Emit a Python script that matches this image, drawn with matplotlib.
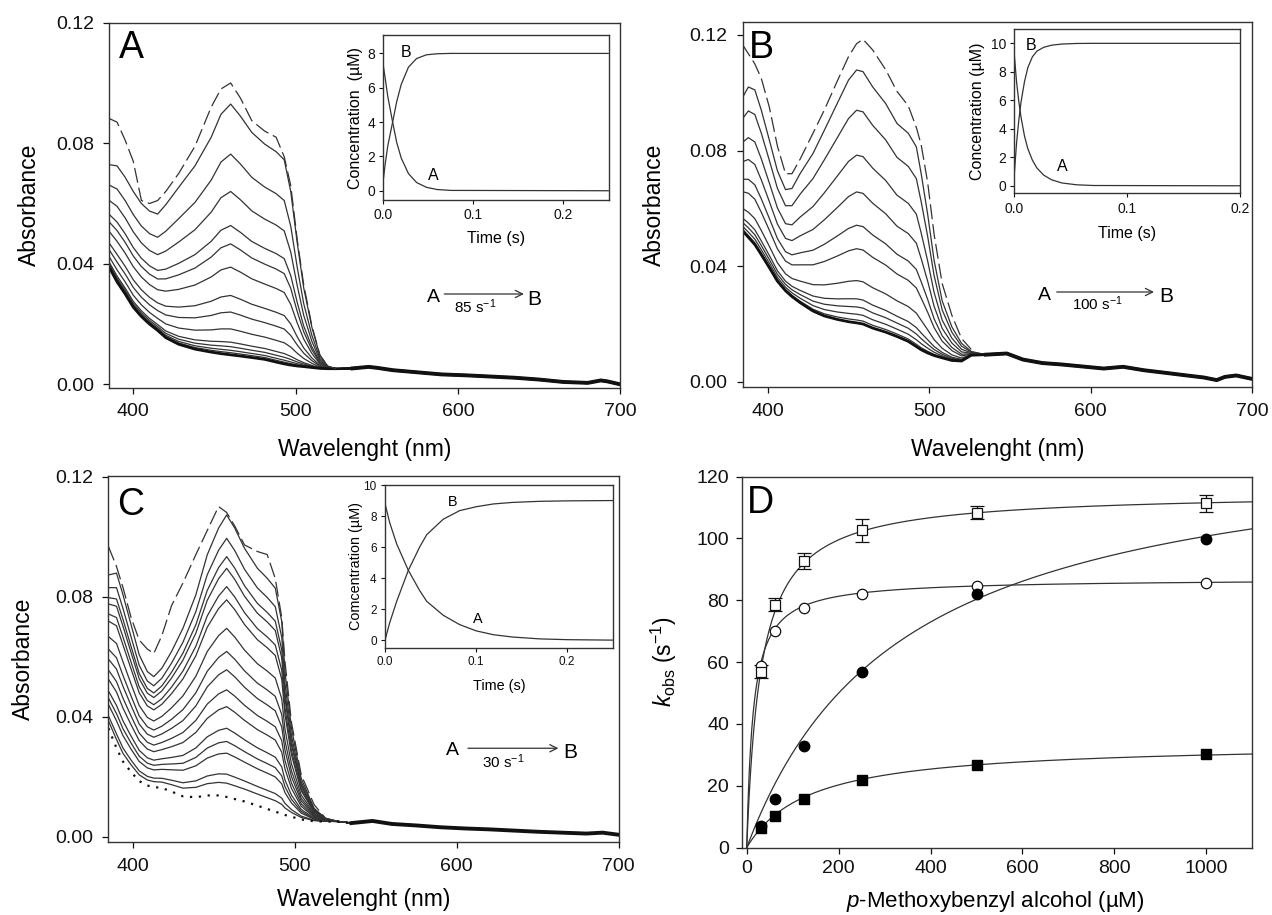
import numpy as np
import matplotlib.pyplot as plt

plt.rcParams['font.family'] = ['Liberation Sans', 'DejaVu Sans']
plt.rcParams['mathtext.fontset'] = 'custom'
plt.rcParams['mathtext.rm'] = 'Liberation Sans'
plt.rcParams['mathtext.it'] = 'Liberation Sans:italic'
plt.rcParams['axes.edgecolor'] = '#333333'
plt.rcParams['axes.linewidth'] = 1.0

# ---------------- panel A spectra ----------------
wl_a = [384, 390, 395, 400, 405, 410, 415, 420, 428, 438, 448, 454, 460, 466, 473,
        481, 488, 493, 497, 501, 505, 510, 515, 520, 525]
top_a = [0.073, 0.0725, 0.0687, 0.064, 0.060, 0.0575, 0.0565, 0.0596, 0.0654, 0.0725,
         0.082, 0.0896, 0.093, 0.089, 0.0836, 0.0797, 0.0772, 0.0745, 0.064, 0.047,
         0.032, 0.019, 0.0095, 0.006, 0.0052]
base_a = [0.040, 0.034, 0.030, 0.0256, 0.0225, 0.020, 0.0179, 0.0155, 0.0133, 0.0117,
          0.0107, 0.0102, 0.0098, 0.0094, 0.0089, 0.0083, 0.0074, 0.0068, 0.0064,
          0.0061, 0.0059, 0.0056, 0.0053, 0.0052, 0.0052]
dash_a = [0.0885, 0.087, 0.081, 0.074, 0.061, 0.060, 0.061, 0.064, 0.070, 0.079, 0.092,
          0.098, 0.100, 0.095, 0.0875, 0.084, 0.082, 0.0755, 0.066, 0.048, 0.033,
          0.0195, 0.0097, 0.006, 0.0052]
peaks_a = [0.093, 0.0764, 0.064, 0.0527, 0.0466, 0.0389, 0.0295, 0.024, 0.0184,
           0.014, 0.0125, 0.0113, 0.0105, 0.0098, 0.0098]
wl_tail_a = [535, 545, 550, 560, 575, 590, 605, 620, 635, 650, 665, 680, 688, 692, 700]
tail_a = [0.0053, 0.0058, 0.0055, 0.0047, 0.0040, 0.0033, 0.0030, 0.0026, 0.0022,
          0.0016, 0.0008, 0.0005, 0.0013, 0.0010, 0.0]

# ---------------- panel B spectra ----------------
wl_b = [384, 388, 392, 396, 401, 406, 411, 415, 420, 428, 435, 443, 450, 455, 459,
        465, 473, 480, 487, 492, 495, 499, 503, 508, 514, 520, 526]
top_b = [0.098, 0.102, 0.101, 0.094, 0.0836, 0.073, 0.0665, 0.0669, 0.072, 0.079,
         0.087, 0.0963, 0.1044, 0.1079, 0.1073, 0.102, 0.0963, 0.0894, 0.086, 0.0813,
         0.072, 0.058, 0.042, 0.028, 0.019, 0.0133, 0.0105]
base_b = [0.0525, 0.050, 0.0475, 0.044, 0.0395, 0.0348, 0.0315, 0.0295, 0.0274,
          0.0245, 0.0228, 0.0216, 0.0208, 0.0204, 0.0200, 0.0186, 0.0172, 0.0157,
          0.0140, 0.0122, 0.0111, 0.0100, 0.0091, 0.0083, 0.0074, 0.0072, 0.0092]
dash_b = [0.117, 0.1135, 0.110, 0.105, 0.095, 0.0815, 0.072, 0.072, 0.077, 0.086,
          0.094, 0.104, 0.1125, 0.117, 0.1185, 0.1148, 0.108, 0.1005, 0.0955, 0.088,
          0.082, 0.069, 0.051, 0.034, 0.023, 0.015, 0.0112]
peaks_b = [0.1073, 0.0934, 0.0779, 0.0652, 0.0537, 0.0456, 0.0346, 0.0283, 0.0255,
           0.023, 0.021, 0.0200, 0.0200, 0.0200]
wl_tail_b = [535, 548, 558, 570, 582, 595, 608, 620, 633, 645, 658, 670, 678, 683, 690, 700]
tail_b = [0.0094, 0.0098, 0.0077, 0.0065, 0.0060, 0.0053, 0.0046, 0.0052, 0.0040,
          0.0032, 0.0023, 0.0015, 0.0006, 0.0017, 0.0022, 0.0010]

# ---------------- panel C spectra ----------------
wl_c = [385, 390, 394, 399, 404, 409, 413, 418, 424, 431, 439, 446, 453, 458, 463,
        469, 477, 483, 488, 492, 494, 498, 504, 512, 519, 527]
top_c = [0.0872, 0.0878, 0.0806, 0.0706, 0.0606, 0.055, 0.0533, 0.0561, 0.0617,
         0.0694, 0.0806, 0.0939, 0.1028, 0.1072, 0.1028, 0.0961, 0.0894, 0.0861,
         0.0828, 0.0717, 0.055, 0.0361, 0.0194, 0.0094, 0.0061, 0.005]
base_c = [0.0361, 0.0295, 0.025, 0.0215, 0.0185, 0.017, 0.0165, 0.0162, 0.015,
          0.0134, 0.0131, 0.0137, 0.0137, 0.0132, 0.0125, 0.0117, 0.0103, 0.0092,
          0.0083, 0.0076, 0.0072, 0.0066, 0.0057, 0.0051, 0.005, 0.005]
dash_c = [0.0967, 0.090, 0.083, 0.073, 0.0655, 0.0625, 0.061, 0.067, 0.077, 0.0845,
          0.094, 0.102, 0.110, 0.108, 0.1035, 0.0972, 0.095, 0.094, 0.086, 0.073,
          0.0583, 0.038, 0.0206, 0.0106, 0.0061, 0.005]
peaks_c = [0.1072, 0.0994, 0.0933, 0.0894, 0.0833, 0.0789, 0.0694, 0.0617, 0.0556,
           0.0489, 0.0433, 0.0361, 0.0317, 0.0278, 0.0208, 0.0178]
wl_tail_c = [535, 548, 560, 575, 590, 605, 620, 635, 650, 665, 680, 690, 700]
tail_c = [0.0045, 0.0052, 0.0042, 0.0037, 0.0031, 0.0027, 0.0024, 0.0020, 0.0016,
          0.0013, 0.0010, 0.0013, 0.0006]

# ---------------- inset kinetics ----------------
t_a = [0, 0.002, 0.005, 0.0104, 0.015, 0.020, 0.028, 0.037, 0.048, 0.060, 0.075, 0.25]
conc_a_A = [7.3, 6.6, 5.5, 4.0, 2.8, 1.9, 1.0, 0.48, 0.2, 0.07, 0.02, 0.0]
conc_a_B = [0.6, 1.5, 2.6, 4.0, 5.2, 6.2, 7.2, 7.7, 7.92, 7.98, 8.0, 8.0]

t_b = [0, 0.002, 0.004, 0.006, 0.009, 0.012, 0.016, 0.02, 0.026, 0.033, 0.042, 0.055, 0.07, 0.2]
conc_b_A = [9.2, 7.3, 5.9, 4.8, 3.5, 2.6, 1.8, 1.25, 0.75, 0.42, 0.2, 0.07, 0.02, 0.0]
conc_b_B = [0.8, 3.0, 4.6, 5.9, 7.3, 8.3, 9.05, 9.45, 9.72, 9.87, 9.95, 9.99, 10.0, 10.0]

t_c = [0, 0.005, 0.0128, 0.0256, 0.038, 0.0458, 0.064, 0.082, 0.1, 0.119, 0.14, 0.17, 0.2, 0.25]
conc_c_A = [8.8, 7.6, 6.2, 4.5, 3.2, 2.5, 1.6, 1.0, 0.6, 0.35, 0.2, 0.08, 0.03, 0.0]
conc_c_B = [0.0, 1.1, 2.5, 4.5, 6.0, 6.8, 7.8, 8.35, 8.6, 8.78, 8.88, 8.95, 8.98, 9.0]

# ---------------- panel D ----------------
alcohol = [31.25, 62.5, 125, 250, 500, 1000]
k_open_sq = [56.9, 78.6, 92.7, 102.6, 108.3, 111.4]
err_open_sq = [2.1, 2.0, 2.7, 3.6, 2.1, 2.7]
k_open_ci = [58.7, 70.0, 77.6, 81.9, 84.6, 85.7]
k_fill_ci = [7.0, 15.7, 32.9, 56.9, 81.9, 99.9]
k_fill_sq = [6.5, 10.3, 15.7, 21.9, 26.8, 30.3]
# hyperbolic fits (kmax, K)
fit_open_sq = (115, 31)
fit_open_ci = (87, 14)
fit_fill_ci = (135, 340)
fit_fill_sq = (34, 135)

LC = '#333333'
fig = plt.figure(figsize=(12.72, 9.15), dpi=100)


def spectra(ax, wl, top, base, peaks, wl_tail, tail, dash, ref, dot=False):
    top = np.array(top)
    base = np.array(base)
    t0 = np.interp(ref, wl, top)
    b0 = np.interp(ref, wl, base)
    x = list(wl) + list(wl_tail)
    for p in peaks:
        f = (p - b0) / (t0 - b0)
        y = base + f * (top - base)
        ax.plot(x, list(y) + list(tail), color=LC, lw=0.9)
    if dot:
        ax.plot(x, list(base) + list(tail), color='#111111', lw=1.6, ls=(0, (1, 3)))
    else:
        ax.plot(x, list(base) + list(tail), color='#111111', lw=2.0)
    ax.plot(wl_tail, tail, color='#111111', lw=2.8)
    ax.plot(wl, dash, color=LC, lw=0.9, ls=(0, (12, 4)))


def style_main(ax, xlim, ylim):
    ax.set_xlim(*xlim)
    ax.set_ylim(*ylim)
    ax.set_xticks([400, 500, 600, 700])
    ax.set_yticks([0.0, 0.04, 0.08, 0.12])
    ax.set_yticklabels(['0.00', '0.04', '0.08', '0.12'])
    ax.tick_params(direction='out', length=4, width=0.9, labelsize=14, pad=7, colors='#111111')
    ax.tick_params(top=False, right=False)
    ax.set_xlabel('Wavelenght (nm)', fontsize=16.5)
    ax.set_ylabel('Absorbance', fontsize=16.5)


def inset(rect, t, ca, cb, xlim, ylim, yticks, ylabel, fs_tick, fs_lab, pos_a, pos_b, ylab_x, xlab_y):
    ax = fig.add_axes(rect)
    ax.plot(t, ca, color=LC, lw=0.9)
    ax.plot(t, cb, color=LC, lw=0.9)
    ax.set_xlim(*xlim)
    ax.set_ylim(*ylim)
    ax.set_xticks([0.0, 0.1, 0.2])
    ax.set_xticklabels(['0.0', '0.1', '0.2'])
    ax.set_yticks(yticks)
    ax.tick_params(direction='out', length=3, width=0.8, labelsize=fs_tick, pad=3, colors='#111111')
    ax.set_xlabel('Time (s)', fontsize=fs_lab)
    ax.set_ylabel(ylabel, fontsize=fs_lab)
    ax.yaxis.set_label_coords(ylab_x, 0.5)
    ax.xaxis.set_label_coords(0.5, xlab_y)
    ax.text(pos_a[0], pos_a[1], 'A', fontsize=fs_lab, ha='center', va='center')
    ax.text(pos_b[0], pos_b[1], 'B', fontsize=fs_lab, ha='center', va='center')
    return ax


def reaction(ax, xa, ya, x0, x1, yarr, xb, yb, xr, yr, rate):
    ax.text(xa, ya, 'A', transform=ax.transAxes, fontsize=14, ha='center', va='baseline')
    ax.text(xb, yb, 'B', transform=ax.transAxes, fontsize=15, ha='center', va='baseline')
    ax.annotate('', xy=(x1, yarr), xytext=(x0, yarr), xycoords='axes fraction',
                arrowprops=dict(arrowstyle='->', color=LC, lw=0.9, shrinkA=0, shrinkB=0,
                                mutation_scale=13))
    ax.text(xr, yr, rate, transform=ax.transAxes, fontsize=11, ha='center', va='baseline')


# panel A
axA = fig.add_axes([0.0859, 0.5763, 0.4017, 0.3989])
spectra(axA, wl_a, top_a, base_a, peaks_a, wl_tail_a, tail_a, dash_a, 460)
style_main(axA, (385.2, 700), (-0.0011, 0.12))
axA.yaxis.set_label_coords(-0.133, 0.5)
axA.xaxis.set_label_coords(0.5, -0.138)
axA.text(0.0438, 0.9025, 'A', transform=axA.transAxes, fontsize=27, ha='center', va='baseline')
reaction(axA, 0.6335, 0.2356, 0.6556, 0.8115, 0.2567, 0.8319, 0.226, 0.7157, 0.2038,
         r'85 s$^{-1}$')
inset([0.3013, 0.7814, 0.1776, 0.1803], t_a, conc_a_A, conc_a_B, (0, 0.251), (-0.54, 9.07),
      [0, 2, 4, 6, 8], 'Concentration  (µM)', 10, 11.5, (0.0553, 0.91), (0.0252, 8.05),
      -0.09, -0.185)

# panel B
axB = fig.add_axes([0.5839, 0.5767, 0.4006, 0.3996])
spectra(axB, wl_b, top_b, base_b, peaks_b, wl_tail_b, tail_b, dash_b, 459)
style_main(axB, (384.5, 700), (-0.0019, 0.1246))
axB.yaxis.set_label_coords(-0.150, 0.5)
axB.xaxis.set_label_coords(0.5, -0.139)
axB.text(0.0359, 0.9007, 'B', transform=axB.transAxes, fontsize=27, ha='center', va='baseline')
reaction(axB, 0.5914, 0.2388, 0.6163, 0.8071, 0.2607, 0.8308, 0.234, 0.6954, 0.2114,
         r'100 s$^{-1}$')
inset([0.7974, 0.7887, 0.1777, 0.1792], t_b, conc_b_A, conc_b_B, (0, 0.2), (-0.53, 10.98),
      [0, 2, 4, 6, 8, 10], 'Concentration (µM)', 10, 11.5, (0.0427, 1.36), (0.0148, 9.85),
      -0.131, -0.197)

# panel C
axC = fig.add_axes([0.0851, 0.0795, 0.4013, 0.4007])
spectra(axC, wl_c, top_c, base_c, peaks_c, wl_tail_c, tail_c, dash_c, 458, dot=True)
style_main(axC, (384.9, 700), (-0.0019, 0.1203))
axC.yaxis.set_label_coords(-0.143, 0.5)
axC.xaxis.set_label_coords(0.5, -0.126)
axC.text(0.0435, 0.893, 'C', transform=axC.transAxes, fontsize=27, ha='center', va='baseline')
reaction(axC, 0.6734, 0.238, 0.7047, 0.8819, 0.2564, 0.9058, 0.229, 0.7741, 0.2018,
         r'30 s$^{-1}$')
inset([0.3027, 0.2921, 0.1789, 0.1778], t_c, conc_c_A, conc_c_B, (0, 0.25), (-0.49, 10),
      [0, 2, 4, 6, 8, 10], 'Comcentration (µM)', 8.5, 10.4, (0.1016, 1.34), (0.0742, 8.92),
      -0.099, -0.192)

# panel D
axD = fig.add_axes([0.5831, 0.0736, 0.4014, 0.4055])
xf = np.linspace(0, 1100, 400)
for km, K in [fit_open_sq, fit_open_ci, fit_fill_ci, fit_fill_sq]:
    axD.plot(xf, km * xf / (K + xf), color=LC, lw=0.9, zorder=1)
axD.errorbar(alcohol, k_open_sq, yerr=err_open_sq, fmt='s', ms=7, mfc='white', mec='#111111',
             mew=0.9, ecolor='#111111', elinewidth=0.9, capsize=5, capthick=0.9, zorder=3)
axD.plot(alcohol, k_open_ci, 'o', ms=7.5, mfc='white', mec='#111111', mew=0.9, zorder=3)
axD.plot(alcohol, k_fill_ci, 'o', ms=7.5, color='black', zorder=3)
axD.plot(alcohol, k_fill_sq, 's', ms=7, color='black', zorder=3)
axD.set_xlim(-10.9, 1100)
axD.set_ylim(0, 120)
axD.set_xticks([0, 200, 400, 600, 800, 1000])
axD.set_yticks([0, 20, 40, 60, 80, 100, 120])
axD.tick_params(direction='out', length=4, width=0.9, labelsize=14, pad=5, colors='#111111')
axD.set_xlabel(r'$p$-Methoxybenzyl alcohol (µM)', fontsize=16)
axD.set_ylabel(r'$k_{\rm obs}$ (s$^{-1}$)', fontsize=16.5)
axD.yaxis.set_label_coords(-0.1235, 0.5)
axD.xaxis.set_label_coords(0.496, -0.111)
axD.text(0.0368, 0.9013, 'D', transform=axD.transAxes, fontsize=27, ha='center', va='baseline')

fig.savefig('out.png', dpi=100)
